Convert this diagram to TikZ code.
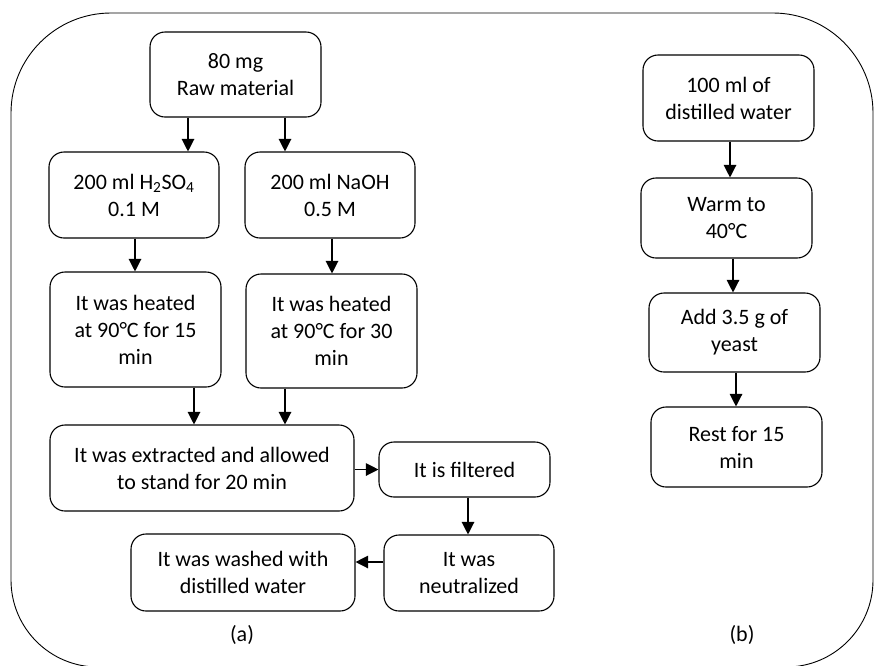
\documentclass[tikz,border=0pt]{standalone}
\usepackage{fontspec}
\setmainfont{Carlito}
\usetikzlibrary{arrows.meta,calc}
\tikzset{
  box/.style={draw, rounded corners=15pt, line width=1.1pt, align=center, inner sep=0pt,
              font=\fontsize{22}{27}\selectfont},
  sz/.style 2 args={minimum width=#1pt, minimum height=#2pt},
  arr/.style={line width=1.2pt, -{Triangle[length=12.5pt,width=12.5pt]}},
  frame/.style={line width=0.9pt},
  lbl/.style={font=\fontsize{22}{27}\selectfont, inner sep=0pt}
}
\begin{document}
\begin{tikzpicture}[x=1pt,y=-1pt]
\useasboundingbox (0,0) rectangle (874,665);
% outer frame
\draw[frame] (11,400) [rounded corners=100pt] -- (11,13) -- (873,13) -- (873,400)
   [rounded corners=87pt] -- (873,667) -- (11,667) -- cycle;

% column (a)
\node[box, sz={171}{85}] (raw) at (235.5,74.5) {80 mg\\Raw material};
\node[box, sz={170}{86}] (acid) at (134,195) {200 ml H\textsubscript{2}SO\textsubscript{4}\\0.1 M};
\node[box, sz={170}{86}] (base) at (330,195) {200 ml NaOH\\0.5 M};
\node[box, sz={171}{115}] (heatA) at (135.5,329.5) {It was heated\\at 90°C for 15\\min};
\node[box, sz={171}{114}] (heatB) at (331.5,331) {It was heated\\at 90°C for 30\\min};
\node[box, sz={304}{86}] (extract) at (202,468) {It was extracted and allowed\\to stand for 20 min};
\node[box, sz={171}{55}] (filter) at (464.5,469.5) {It is filtered};
\node[box, sz={170}{76}] (neutral) at (469,573) {It was\\neutralized};
\node[box, sz={224}{77}] (washed) at (243,572.5) {It was washed with\\distilled water};
\node[lbl] (la) at (242,635) {(a)};

% column (b)
\node[box, sz={171}{86}] (water) at (728.5,98) {100 ml of\\distilled water};
\node[box, sz={171}{80}] (warm) at (726.5,218) {Warm to\\40°C};
\node[box, sz={171}{79}] (yeast) at (734.5,332.5) {Add 3.5 g of\\yeast};
\node[box, sz={171}{80}] (rest) at (736.5,447) {Rest for 15\\min};
\node[lbl] (lb) at (742,635) {(b)};

% connectors (a)
\draw[arr] ([xshift=-47.5pt]raw.south) -- ([xshift=-47.5pt]raw.south |- acid.north);
\draw[arr] ([xshift=49.5pt]raw.south) -- ([xshift=49.5pt]raw.south |- base.north);
\draw[arr] ([xshift=1pt]acid.south) -- ([xshift=1pt]acid.south |- heatA.north);
\draw[arr] ([xshift=2pt]base.south) -- ([xshift=2pt]base.south |- heatB.north);
\draw[arr] ([xshift=58.5pt]heatA.south) -- ([xshift=58.5pt]heatA.south |- extract.north);
\draw[arr] ([xshift=-46.5pt]heatB.south) -- ([xshift=-46.5pt]heatB.south |- extract.north);
\draw[arr] (extract.east |- filter.west) -- (filter.west);
\draw[arr] ([xshift=3.5pt]filter.south) -- ([xshift=3.5pt]filter.south |- neutral.north);
\draw[arr] ([yshift=11pt]neutral.west) -- ([yshift=11pt]neutral.west -| washed.east);

% connectors (b)
\draw[arr] ([xshift=1.5pt]water.south) -- ([xshift=1.5pt]water.south |- warm.north);
\draw[arr] ([xshift=6.5pt]warm.south) -- ([xshift=6.5pt]warm.south |- yeast.north);
\draw[arr] ([xshift=1.5pt]yeast.south) -- ([xshift=1.5pt]yeast.south |- rest.north);
\end{tikzpicture}
\end{document}
